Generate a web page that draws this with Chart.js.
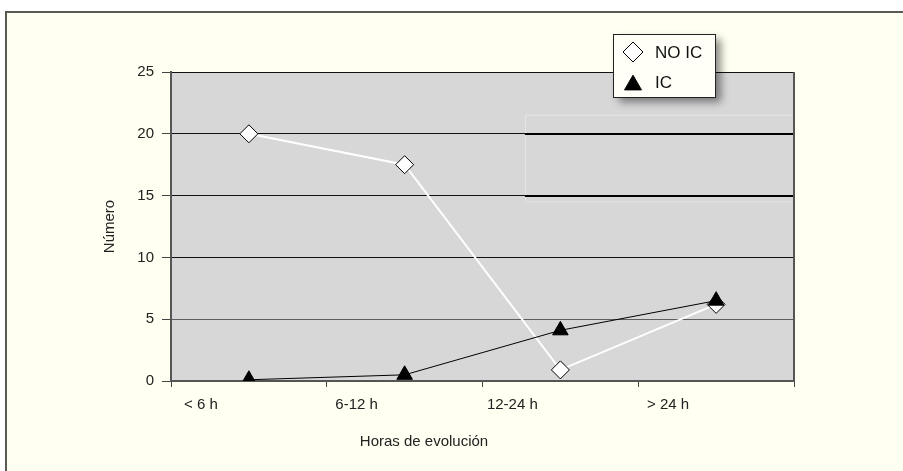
<!DOCTYPE html>
<html>
<head>
<meta charset="utf-8">
<script src="https://cdn.jsdelivr.net/npm/chart.js@4/dist/chart.umd.min.js"></script>
<style>
  html, body { margin: 0; padding: 0; background: #ffffff; }
  #wrap { width: 903px; height: 471px; }
</style>
</head>
<body>
<div id="wrap"><canvas id="myChart" width="903" height="471"></canvas></div>
<script>
// datos
var categorias = ['< 6 h', '6-12 h', '12-24 h', '> 24 h'];
var noIC = [20, 17.5, 0.9, 6.2];
var ic = [0.1, 0.5, 4.1, 6.5];
var ticksY = [0, 5, 10, 15, 20, 25];
var tituloX = 'Horas de evolución';

var fuente = '"Liberation Sans", Arial, Helvetica, sans-serif';

// fondo, marco, leyenda y titulo del eje x
var fondoPlugin = {
    id: 'fondo',
    beforeDraw: function (chart) {
        var ctx = chart.ctx;
        var a = chart.chartArea;
        ctx.save();
        ctx.fillStyle = '#ffffff';
        ctx.fillRect(0, 0, chart.width, chart.height);
        ctx.fillStyle = '#fffff2';
        ctx.fillRect(7, 13, chart.width - 7, chart.height - 13);
        ctx.fillStyle = '#5a5a55';
        ctx.fillRect(5, 11, chart.width - 5, 2);
        ctx.fillRect(5, 11, 2, chart.height - 11);
        ctx.fillStyle = '#d7d7d7';
        ctx.fillRect(a.left, a.top, a.right - a.left, a.bottom - a.top);
        ctx.restore();
    },
    beforeDatasetsDraw: function (chart) {
        // lineas mas gruesas en la zona superior derecha
        var ctx = chart.ctx;
        var a = chart.chartArea;
        var y = chart.scales.y;
        var x0 = a.left + (a.right - a.left) * 0.568;
        ctx.save();
        ctx.strokeStyle = 'rgba(255,255,255,0.35)';
        ctx.lineWidth = 1;
        ctx.strokeRect(x0 + 0.5, y.getPixelForValue(21.5), a.right - x0, y.getPixelForValue(14.5) - y.getPixelForValue(21.5));
        ctx.fillStyle = '#000000';
        [20, 15].forEach(function (v) {
            var py = Math.round(y.getPixelForValue(v));
            ctx.fillRect(x0, py - 1, a.right - x0, 2);
        });
        ctx.restore();
    },
    afterDraw: function (chart) {
        var ctx = chart.ctx;
        var a = chart.chartArea;
        ctx.save();
        // borde derecho
        ctx.fillStyle = '#555555';
        ctx.fillRect(a.right - 1, a.top, 2, a.bottom - a.top + 1);

        // titulo eje x
        ctx.fillStyle = '#222222';
        ctx.font = '15px ' + fuente;
        ctx.textAlign = 'center';
        ctx.textBaseline = 'middle';
        ctx.fillText(tituloX, 424, 442);

        // leyenda
        var lx = 613, ly = 34, lw = 102, lh = 63;
        ctx.shadowColor = 'rgba(0,0,0,0.45)';
        ctx.shadowBlur = 8;
        ctx.shadowOffsetX = 6;
        ctx.shadowOffsetY = 5;
        ctx.fillStyle = '#fffff8';
        ctx.fillRect(lx, ly, lw, lh);
        ctx.shadowColor = 'transparent';
        ctx.strokeStyle = '#222222';
        ctx.lineWidth = 1;
        ctx.strokeRect(lx + 0.5, ly + 0.5, lw, lh);

        var sets = chart.data.datasets;
        var filas = [sets[0], sets[1]];
        filas.forEach(function (ds, i) {
            var cy = ly + 18 + i * 30;
            var cx = lx + 20;
            var tri = ds.pointStyle === 'triangle';
            ctx.fillStyle = ds.pointBackgroundColor;
            ctx.strokeStyle = '#000000';
            ctx.lineWidth = 1;
            Chart.helpers.drawPoint(ctx, {
                pointStyle: ds.pointStyle,
                radius: tri ? 9.8 : 10,
                borderWidth: 1,
                rotation: 0
            }, cx, tri ? cy + 3 : cy);
            ctx.fillStyle = '#111111';
            ctx.font = '17px ' + fuente;
            ctx.textBaseline = 'middle';
            ctx.textAlign = 'left';
            ctx.fillText(ds.label, lx + 42, cy + 1);
        });
        ctx.restore();
    }
};

var ctx = document.getElementById('myChart').getContext('2d');
var myChart = new Chart(ctx, {
    type: 'line',
    data: {
        labels: categorias,
        datasets: [{
            label: 'NO IC',
            data: noIC,
            borderColor: '#ffffff',
            borderWidth: 2,
            pointStyle: 'rectRot',
            pointRadius: 9,
            pointBackgroundColor: '#ffffff',
            pointBorderColor: '#000000',
            pointBorderWidth: 1,
            order: 2
        }, {
            label: 'IC',
            data: ic,
            borderColor: '#000000',
            borderWidth: 1,
            pointStyle: 'triangle',
            pointRadius: 9,
            pointBackgroundColor: '#000000',
            pointBorderColor: '#000000',
            pointBorderWidth: 1,
            order: 1
        }]
    },
    options: {
        responsive: false,
        animation: false,
        layout: {
            padding: { left: 0, right: 109, top: 72, bottom: 10 }
        },
        plugins: {
            legend: { display: false },
            tooltip: { enabled: false }
        },
        scales: {
            x: {
                offset: true,
                afterFit: function (s) { s.height = 80; },
                grid: {
                    offset: true,
                    drawOnChartArea: false,
                    tickLength: 6,
                    tickColor: '#444444'
                },
                border: { color: '#555555', width: 2 },
                ticks: {
                    color: '#222222',
                    font: { family: fuente, size: 15 },
                    padding: 9,
                    labelOffset: -48,
                    maxRotation: 0
                },
                title: { display: false }
            },
            y: {
                min: 0,
                max: 25,
                afterFit: function (s) { s.width = 171; },
                afterBuildTicks: function (s) {
                    s.ticks = ticksY.map(function (v) { return { value: v }; });
                },
                grid: {
                    color: function (c) {
                        if (c.tick && c.tick.value === 5) return '#5e5e5e';
                        return '#111111';
                    },
                    lineWidth: 1,
                    tickLength: 9,
                    tickColor: '#444444'
                },
                border: { color: '#555555', width: 2 },
                ticks: {
                    color: '#222222',
                    font: { family: fuente, size: 15 },
                    padding: 8
                },
                title: {
                    display: true,
                    text: 'Número',
                    color: '#222222',
                    font: { family: fuente, size: 15 },
                    padding: { top: 101, bottom: 0 }
                }
            }
        }
    },
    plugins: [fondoPlugin]
});
</script>
</body>
</html>
